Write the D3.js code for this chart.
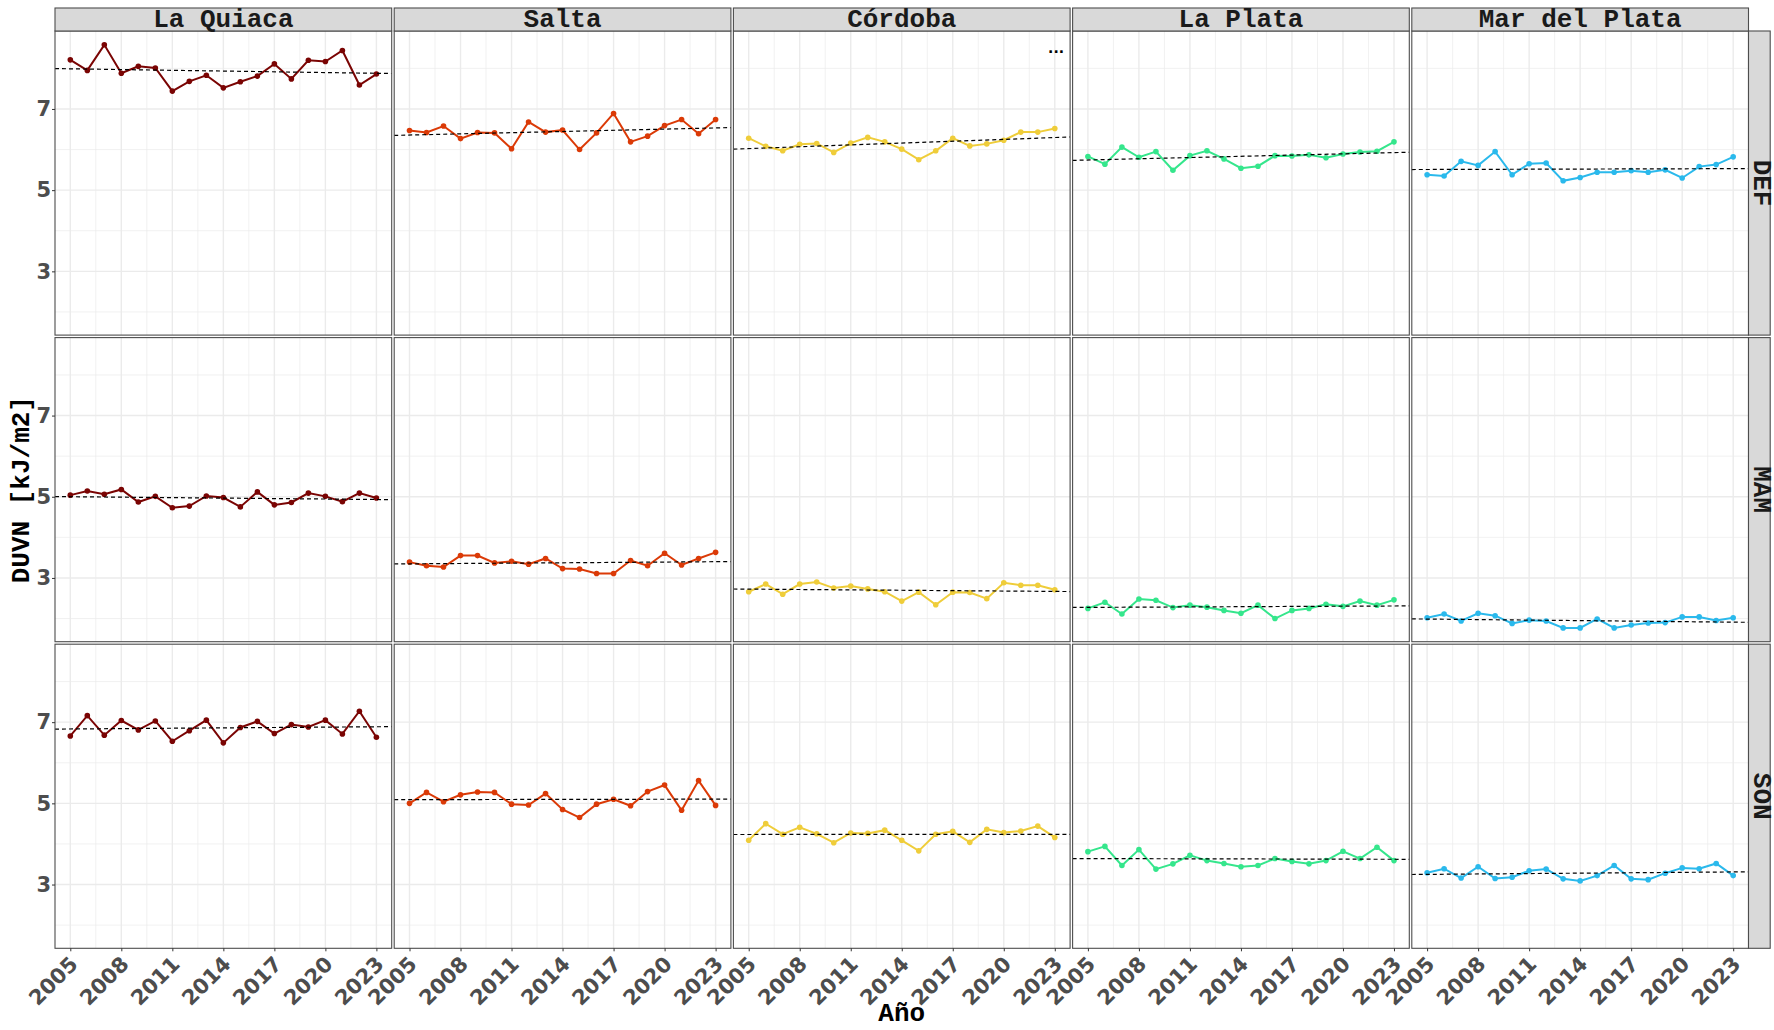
<!DOCTYPE html>
<html>
<head>
<meta charset="utf-8">
<script src="https://cdn.jsdelivr.net/npm/d3@7"></script>
<style>
  body { margin: 0; background: #fff; }
</style>
</head>
<body>
<div id="chart"></div>
<script>
// categories
const years = [2005, 2006, 2007, 2008, 2009, 2010, 2011, 2012, 2013, 2014,
               2015, 2016, 2017, 2018, 2019, 2020, 2021, 2022, 2023];
const stations = ["La Quiaca", "Salta", "Córdoba", "La Plata", "Mar del Plata"];
const seasons = ["DEF", "MAM", "SON"];
const stationColors = ["#7A0403", "#DB3A07", "#EFCD3A", "#35E68C", "#2AB9EC"];

// tick labels
const xTicks = [2005, 2008, 2011, 2014, 2017, 2020, 2023];
const xMinor = [2006.5, 2009.5, 2012.5, 2015.5, 2018.5, 2021.5];
const yTicks = [3, 5, 7];
const yMinor = [2, 4, 6, 8];

// DUVN series (kJ/m2), one per station and season
const laQuiacaDEF = [8.21, 7.95, 8.58, 7.88, 8.05, 8.01, 7.44, 7.68, 7.83, 7.52, 7.67, 7.81, 8.11, 7.74, 8.20, 8.17, 8.44, 7.59, 7.86];
const saltaDEF = [6.47, 6.42, 6.58, 6.27, 6.42, 6.41, 6.02, 6.68, 6.43, 6.48, 6.00, 6.41, 6.89, 6.19, 6.33, 6.59, 6.74, 6.39, 6.74];
const cordobaDEF = [6.28, 6.08, 5.97, 6.13, 6.15, 5.93, 6.16, 6.30, 6.19, 6.01, 5.75, 5.97, 6.28, 6.09, 6.14, 6.23, 6.43, 6.43, 6.52];
const laPlataDEF = [5.83, 5.64, 6.06, 5.81, 5.95, 5.49, 5.85, 5.97, 5.77, 5.54, 5.59, 5.85, 5.84, 5.87, 5.80, 5.89, 5.94, 5.96, 6.19];
const marDelPlataDEF = [5.38, 5.35, 5.71, 5.61, 5.95, 5.38, 5.65, 5.67, 5.23, 5.31, 5.44, 5.44, 5.48, 5.44, 5.50, 5.30, 5.58, 5.63, 5.82];

const laQuiacaMAM = [5.04, 5.14, 5.06, 5.18, 4.87, 5.01, 4.73, 4.77, 5.02, 4.98, 4.75, 5.12, 4.80, 4.86, 5.09, 5.01, 4.88, 5.09, 4.97];
const saltaMAM = [3.39, 3.30, 3.27, 3.55, 3.55, 3.37, 3.41, 3.34, 3.48, 3.23, 3.22, 3.11, 3.11, 3.43, 3.30, 3.61, 3.32, 3.48, 3.63];
const cordobaMAM = [2.66, 2.85, 2.60, 2.85, 2.90, 2.75, 2.80, 2.73, 2.66, 2.43, 2.65, 2.34, 2.65, 2.64, 2.49, 2.88, 2.82, 2.82, 2.71];
const laPlataMAM = [2.25, 2.40, 2.11, 2.48, 2.45, 2.27, 2.33, 2.28, 2.20, 2.13, 2.33, 2.00, 2.20, 2.25, 2.35, 2.30, 2.43, 2.33, 2.46];
const marDelPlataMAM = [2.02, 2.11, 1.94, 2.13, 2.07, 1.88, 1.96, 1.94, 1.77, 1.77, 1.99, 1.77, 1.84, 1.89, 1.90, 2.04, 2.04, 1.95, 2.02];

const laQuiacaSON = [6.66, 7.16, 6.68, 7.04, 6.81, 7.03, 6.53, 6.79, 7.05, 6.49, 6.87, 7.02, 6.72, 6.94, 6.88, 7.05, 6.71, 7.27, 6.63];
const saltaSON = [5.00, 5.27, 5.04, 5.21, 5.28, 5.27, 4.98, 4.96, 5.24, 4.85, 4.65, 4.98, 5.10, 4.94, 5.29, 5.45, 4.83, 5.56, 4.95];
const cordobaSON = [4.09, 4.50, 4.24, 4.41, 4.25, 4.03, 4.27, 4.26, 4.34, 4.09, 3.83, 4.24, 4.31, 4.04, 4.36, 4.28, 4.32, 4.44, 4.16];
const laPlataSON = [3.81, 3.94, 3.47, 3.86, 3.38, 3.51, 3.72, 3.59, 3.52, 3.44, 3.47, 3.64, 3.57, 3.51, 3.59, 3.82, 3.64, 3.92, 3.59];
const marDelPlataSON = [3.29, 3.39, 3.16, 3.44, 3.15, 3.18, 3.34, 3.38, 3.14, 3.09, 3.22, 3.47, 3.14, 3.12, 3.28, 3.41, 3.39, 3.52, 3.22];

const seriesGrid = [
  [laQuiacaDEF, saltaDEF, cordobaDEF, laPlataDEF, marDelPlataDEF],
  [laQuiacaMAM, saltaMAM, cordobaMAM, laPlataMAM, marDelPlataMAM],
  [laQuiacaSON, saltaSON, cordobaSON, laPlataSON, marDelPlataSON]
];

function main() {
  const W = 1774, H = 1030;
  const left = 55, top = 31;
  const panelW = 336.7, panelH = 304.1, gap = 2.5;
  const stripH = 23, stripW = 21.7;
  const monoFont = "'Liberation Mono', 'Courier New', monospace";
  const sansFont = "'DejaVu Sans', Verdana, sans-serif";

  const svg = d3.select("#chart").append("svg")
    .attr("width", W).attr("height", H);

  // shared scales (ggplot style 5% expansion)
  const allVals = seriesGrid.flat(2);
  const ext = d3.extent(allVals);
  const pad = (ext[1] - ext[0]) * 0.05;
  const yScale = d3.scaleLinear().domain([ext[0] - pad, ext[1] + pad]).range([panelH, 0]);
  const xPad = (years[years.length - 1] - years[0]) * 0.05;
  const xScale = d3.scaleLinear()
    .domain([years[0] - xPad, years[years.length - 1] + xPad])
    .range([0, panelW]);

  const line = d3.line().x((d, i) => xScale(years[i])).y(d => yScale(d));

  seriesGrid.forEach((row, r) => {
    row.forEach((vals, c) => {
      const px = left + c * (panelW + gap);
      const py = top + r * (panelH + gap);
      const g = svg.append("g").attr("transform", "translate(" + px + "," + py + ")");

      g.append("rect").attr("width", panelW).attr("height", panelH).attr("fill", "#fff");

      // grid
      g.selectAll(".ymin").data(yMinor).enter().append("line")
        .attr("x1", 0).attr("x2", panelW)
        .attr("y1", d => yScale(d)).attr("y2", d => yScale(d))
        .attr("stroke", "#EBEBEB").attr("stroke-width", 0.7);
      g.selectAll(".xmin").data(xMinor).enter().append("line")
        .attr("y1", 0).attr("y2", panelH)
        .attr("x1", d => xScale(d)).attr("x2", d => xScale(d))
        .attr("stroke", "#EBEBEB").attr("stroke-width", 0.7);
      g.selectAll(".ymaj").data(yTicks).enter().append("line")
        .attr("x1", 0).attr("x2", panelW)
        .attr("y1", d => yScale(d)).attr("y2", d => yScale(d))
        .attr("stroke", "#EBEBEB").attr("stroke-width", 1.4);
      g.selectAll(".xmaj").data(xTicks).enter().append("line")
        .attr("y1", 0).attr("y2", panelH)
        .attr("x1", d => xScale(d)).attr("x2", d => xScale(d))
        .attr("stroke", "#EBEBEB").attr("stroke-width", 1.4);

      // series
      g.append("path").datum(vals)
        .attr("d", line)
        .attr("fill", "none")
        .attr("stroke", stationColors[c])
        .attr("stroke-width", 2);
      g.selectAll("circle").data(vals).enter().append("circle")
        .attr("cx", (d, i) => xScale(years[i]))
        .attr("cy", d => yScale(d))
        .attr("r", 2.8)
        .attr("fill", stationColors[c]);

      // linear trend across full panel
      const mx = d3.mean(years), my = d3.mean(vals);
      const slope = d3.sum(years, (yr, i) => (yr - mx) * (vals[i] - my)) /
                    d3.sum(years, yr => (yr - mx) * (yr - mx));
      const x0 = xScale.domain()[0], x1 = xScale.domain()[1];
      g.append("line")
        .attr("x1", xScale(x0)).attr("x2", xScale(x1))
        .attr("y1", yScale(my + slope * (x0 - mx)))
        .attr("y2", yScale(my + slope * (x1 - mx)))
        .attr("stroke", "#000")
        .attr("stroke-width", 1.2)
        .attr("stroke-dasharray", "4,3");

      if (r === 0 && c === 2) {
        g.append("text")
          .attr("x", panelW - 14).attr("y", 22)
          .attr("text-anchor", "middle")
          .style("font-family", sansFont).style("font-weight", "bold")
          .style("font-size", "14px")
          .text("...");
      }

      g.append("rect").attr("width", panelW).attr("height", panelH)
        .attr("fill", "none").attr("stroke", "#4D4D4D").attr("stroke-width", 1.1);

      // left axis
      if (c === 0) {
        const yAxis = d3.axisLeft(yScale).tickValues(yTicks).tickSize(3).tickPadding(1);
        const ax = g.append("g").call(yAxis);
        ax.select(".domain").remove();
        ax.selectAll(".tick line").attr("stroke", "#333");
        ax.selectAll(".tick text")
          .attr("fill", "#4D4D4D")
          .style("font-family", sansFont).style("font-weight", "bold")
          .style("font-size", "21px");
      }

      // bottom axis
      if (r === seriesGrid.length - 1) {
        const xAxis = d3.axisBottom(xScale).tickValues(xTicks).tickSize(3).tickFormat(d3.format("d"));
        const ax = g.append("g").attr("transform", "translate(0," + panelH + ")").call(xAxis);
        ax.select(".domain").remove();
        ax.selectAll(".tick line").attr("stroke", "#333");
        ax.selectAll(".tick text")
          .attr("fill", "#4D4D4D")
          .attr("y", 0).attr("dy", "0.35em")
          .attr("text-anchor", "end")
          .attr("transform", "translate(3,12) rotate(-45)")
          .style("font-family", sansFont).style("font-weight", "bold")
          .style("font-size", "21px");
      }

      // top strips
      if (r === 0) {
        svg.append("rect")
          .attr("x", px).attr("y", top - stripH)
          .attr("width", panelW).attr("height", stripH)
          .attr("fill", "#D9D9D9").attr("stroke", "#4D4D4D").attr("stroke-width", 1.1);
        svg.append("text")
          .attr("x", px + panelW / 2).attr("y", top - 4.5)
          .attr("text-anchor", "middle")
          .attr("fill", "#1A1A1A")
          .style("font-family", monoFont).style("font-weight", "bold")
          .style("font-size", "26px")
          .text(stations[c]);
      }

      // right strips
      if (c === row.length - 1) {
        const sx = px + panelW;
        svg.append("rect")
          .attr("x", sx).attr("y", py)
          .attr("width", stripW).attr("height", panelH)
          .attr("fill", "#D9D9D9").attr("stroke", "#4D4D4D").attr("stroke-width", 1.1);
        svg.append("text")
          .attr("transform", "translate(" + (sx + 5) + "," + (py + panelH / 2) + ") rotate(90)")
          .attr("text-anchor", "middle")
          .attr("fill", "#1A1A1A")
          .style("font-family", monoFont).style("font-weight", "bold")
          .style("font-size", "26px")
          .text(seasons[r]);
      }
    });
  });

  // axis titles
  const plotRight = left + 5 * panelW + 4 * gap;
  svg.append("text")
    .attr("x", (left + plotRight) / 2).attr("y", 1021)
    .attr("text-anchor", "middle")
    .style("font-family", monoFont).style("font-weight", "bold")
    .style("font-size", "26px")
    .text("Año");
  svg.append("text")
    .attr("transform", "translate(29," + (top + (3 * panelH + 2 * gap) / 2) + ") rotate(-90)")
    .attr("text-anchor", "middle")
    .style("font-family", monoFont).style("font-weight", "bold")
    .style("font-size", "26px")
    .text("DUVN [kJ/m2]");
}

window.onload = function() {
  main();
};
</script>
</body>
</html>
